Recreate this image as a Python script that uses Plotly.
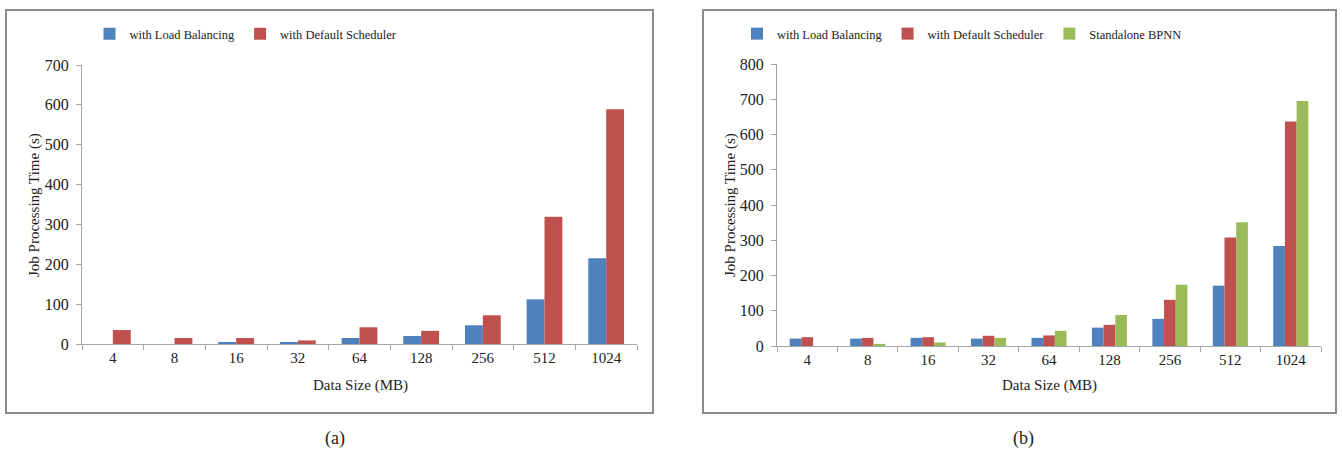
import plotly.graph_objects as go

categories = ["4", "8", "16", "32", "64", "128", "256", "512", "1024"]

# Panel (a)
a_load_balancing = [0, 0, 5, 5, 15, 20, 47, 112, 215]
a_default_scheduler = [35, 15, 15, 9, 42, 33, 72, 319, 589]

# Panel (b)
b_load_balancing = [21, 21, 23, 21, 23, 52, 77, 171, 284]
b_default_scheduler = [25, 23, 25, 29, 30, 60, 131, 308, 637]
b_standalone_bpnn = [0, 6, 10, 23, 43, 88, 174, 351, 695]

BLUE = "#4F81BD"
RED = "#C0504D"
GREEN = "#9BBB59"
FONT = "Liberation Serif"
W, H = 1342, 452

def px(x):
    return x / W

def py(y):
    return 1 - y / H

fig = go.Figure()

fig.add_trace(go.Bar(x=categories, y=a_load_balancing, name="with Load Balancing",
                     marker=dict(color=BLUE, line=dict(width=0)), xaxis="x", yaxis="y", legend="legend"))
fig.add_trace(go.Bar(x=categories, y=a_default_scheduler, name="with Default Scheduler",
                     marker=dict(color=RED, line=dict(width=0)), xaxis="x", yaxis="y", legend="legend"))

fig.add_trace(go.Bar(x=categories, y=b_load_balancing, name="with Load Balancing",
                     marker=dict(color=BLUE, line=dict(width=0)), xaxis="x2", yaxis="y2", legend="legend2"))
fig.add_trace(go.Bar(x=categories, y=b_default_scheduler, name="with Default Scheduler",
                     marker=dict(color=RED, line=dict(width=0)), xaxis="x2", yaxis="y2", legend="legend2"))
fig.add_trace(go.Bar(x=categories, y=b_standalone_bpnn, name="Standalone BPNN",
                     marker=dict(color=GREEN, line=dict(width=0)), xaxis="x2", yaxis="y2", legend="legend2"))

axis_common = dict(showgrid=False, zeroline=False, showline=True, linecolor="#A6A6A6", linewidth=1,
                   ticks="outside", tickcolor="#A6A6A6", ticklen=5, fixedrange=True, automargin=False)
xfont = dict(family=FONT, size=15, color="#222")
yfont = dict(family=FONT, size=16, color="#222")

legend_common = dict(orientation="h", yanchor="middle", font=dict(family=FONT, size=12.5, color="#222"),
                     itemwidth=30, bgcolor="rgba(0,0,0,0)", tracegroupgap=0)

fig.update_layout(
    width=W, height=H, autosize=False,
    margin=dict(l=0, r=0, t=0, b=0, pad=0, autoexpand=False),
    paper_bgcolor="white", plot_bgcolor="white",
    barmode="group",
    bargap=0.42, bargroupgap=0,
    font=dict(family=FONT, size=15, color="#222"),
    xaxis=dict(domain=[px(82), px(637)], anchor="y", tickson="boundaries", tickfont=xfont, **axis_common),
    yaxis=dict(domain=[py(344), py(65)], anchor="x", range=[0, 700], dtick=100, tickfont=yfont,
               ticklabelstandoff=4, **axis_common),
    xaxis2=dict(domain=[px(777), px(1321)], anchor="y2", tickson="boundaries", tickfont=xfont, **axis_common),
    yaxis2=dict(domain=[py(346), py(64)], anchor="x2", range=[0, 800], dtick=100, tickfont=yfont,
                ticklabelstandoff=4, **axis_common),
    legend=dict(x=px(246), y=py(34), xanchor="center", **legend_common),
    legend2=dict(x=px(962), y=py(34), xanchor="center", **legend_common),
    showlegend=True,
)

# Panel borders
for x0, x1 in [(6, 653), (703, 1336)]:
    fig.add_shape(type="rect", xref="paper", yref="paper",
                  x0=px(x0), x1=px(x1), y0=py(413), y1=py(10),
                  line=dict(color="#8C8C8C", width=2), fillcolor="rgba(0,0,0,0)", layer="below")

annotations = [
    dict(text="Job Processing Time (s)", x=px(34), y=py(205), textangle=-90),
    dict(text="Job Processing Time (s)", x=px(730), y=py(205), textangle=-90),
    dict(text="Data Size (MB)", x=px(360), y=py(385)),
    dict(text="Data Size (MB)", x=px(1049), y=py(385)),
    dict(text="(a)", x=px(335), y=py(438), size=18),
    dict(text="(b)", x=px(1023), y=py(438), size=18),
]
for a in annotations:
    fig.add_annotation(text=a["text"], x=a["x"], y=a["y"], xref="paper", yref="paper",
                       showarrow=False, textangle=a.get("textangle", 0),
                       xanchor="center", yanchor="middle",
                       font=dict(family=FONT, size=a.get("size", 15), color="#222"))

fig.write_html("out.html", config={"displayModeBar": False})

with open("out.html", "r", encoding="utf-8") as f:
    html = f.read()
css = ("<style>html,body{margin:0;padding:0;overflow:hidden;}"
       ".plotly-graph-div{position:absolute;top:0;left:0;}</style>")
html = html.replace("<head>", "<head>" + css, 1)
with open("out.html", "w", encoding="utf-8") as f:
    f.write(html)
